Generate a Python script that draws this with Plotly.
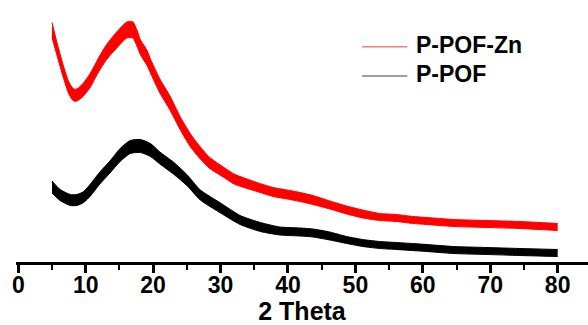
import plotly.graph_objects as go

# 2-theta positions (deg) and intensity (a.u.)
red_x = [5.0, 5.7, 6.7, 7.5, 8.2, 8.7, 9.6, 10.7, 11.9, 13.1, 14.6, 16.1, 17.0, 17.6, 18.1,
         19.1, 19.6, 21.0, 22.5, 24.0, 25.5, 27.0, 28.4, 30.4, 32.0, 35.4, 37.8, 40.3, 41.8,
         43.7, 46.2, 48.7, 51.1, 53.6, 56.1, 58.5, 60.6, 64.5, 69.5, 74.4, 80.0]
red_y = [233, 215, 191, 175, 168, 168, 173, 183, 198, 211, 223, 233, 233, 225, 216,
         205, 197, 177, 160, 140, 123, 110, 100, 91, 84, 76, 71, 68, 66,
         63, 58, 53, 49, 46, 45, 43, 42, 40, 39, 38, 36]
# noise band thickness (a.u.)
red_band = [15, 13, 12, 12, 12, 12, 13, 14, 14, 15, 16, 16, 16, 16, 15,
            15, 14, 14, 14, 13, 13, 12, 11, 10, 10, 9, 9, 9, 9,
            9, 8, 8, 8, 7, 7, 7, 7, 7, 7, 7, 7]

blk_x = [5.0, 6.2, 7.7, 8.7, 9.7, 10.7, 12.1, 13.6, 15.1, 16.6, 18.1, 19.6, 21.0, 23.0,
         25.0, 27.0, 30.0, 32.9, 35.9, 38.8, 41.8, 43.7, 46.2, 48.7, 51.1, 53.6, 56.1,
         60.6, 64.5, 69.5, 74.4, 80.0]
blk_y = [76, 68, 63, 63, 66, 73, 85, 96, 108, 116, 117, 113, 105, 95,
         83, 68, 55, 43, 36, 32, 31, 30, 27, 23, 20, 18, 17,
         15, 13, 12, 11, 10]
blk_band = [12, 11, 11, 11, 11, 12, 12, 12, 13, 13, 13, 13, 12, 12,
            11, 10, 10, 9, 9, 8, 8, 8, 8, 7, 7, 7, 7,
            7, 7, 7, 7, 7]

series_names = ["P-POF-Zn", "P-POF"]
x_ticks = [0, 10, 20, 30, 40, 50, 60, 70, 80]

FONT = "Liberation Sans, Arial, sans-serif"

fig = go.Figure()


def add_band(xs, ys, band, color):
    upper = [y + b / 2 for y, b in zip(ys, band)]
    lower = [y - b / 2 for y, b in zip(ys, band)]
    fig.add_trace(go.Scatter(x=xs, y=lower, mode="lines",
                             line=dict(color=color, width=1, shape="spline", smoothing=0.6),
                             showlegend=False, hoverinfo="skip"))
    fig.add_trace(go.Scatter(x=xs, y=upper, mode="lines",
                             line=dict(color=color, width=1, shape="spline", smoothing=0.6),
                             fill="tonexty", fillcolor=color,
                             showlegend=False, hoverinfo="skip"))


add_band(blk_x, blk_y, blk_band, "#000000")
add_band(red_x, red_y, red_band, "#ff0000")

# legend (drawn manually to match the reference geometry)
leg_items = [(series_names[0], "#ff7a7a", 216.3), (series_names[1], "#7f7f7f", 187.0)]
for name, col, yy in leg_items:
    fig.add_shape(type="line", xref="x", yref="y", x0=51.0, x1=57.7, y0=yy, y1=yy,
                  line=dict(color=col, width=1.5))
    fig.add_annotation(x=58.7, y=yy + 2, xref="x", yref="y", text=name, showarrow=False,
                       xanchor="left", yanchor="middle",
                       font=dict(family=FONT, size=23, color="#000000", weight="bold"))

fig.update_layout(
    width=588, height=325,
    margin=dict(l=16, r=0, t=0, b=63, autoexpand=False),
    paper_bgcolor="white", plot_bgcolor="white",
    showlegend=False,
    font=dict(family=FONT, color="#000000"),
)
fig.update_xaxes(
    range=[-0.34, 84.5], automargin=False,
    tickmode="array", tickvals=x_ticks, ticktext=[str(v) for v in x_ticks],
    showline=True, linecolor="#000000", linewidth=3,
    ticks="outside", ticklen=8, tickwidth=2.5, tickcolor="#000000",
    ticklabelstandoff=-8,
    minor=dict(dtick=5, tick0=0, ticks="outside", ticklen=5, tickwidth=2, tickcolor="#000000"),
    showgrid=False, zeroline=False,
    tickfont=dict(family=FONT, size=23, color="#000000", weight="bold"),
    title=dict(text="2 Theta", standoff=2,
               font=dict(family=FONT, size=25, color="#000000", weight="bold")),
)
fig.update_yaxes(range=[1, 263], visible=False, automargin=False)

fig.write_html("out.html", config={"displayModeBar": False},
               post_script="document.body.style.margin='0px';document.body.style.padding='0px';")
